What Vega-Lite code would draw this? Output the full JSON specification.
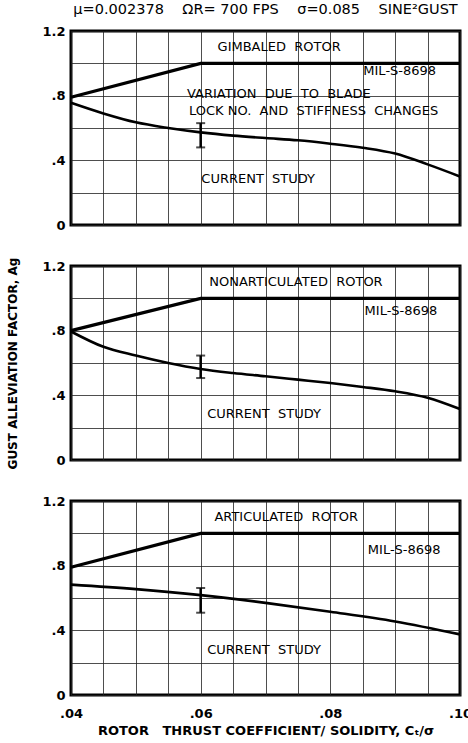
{
  "$schema": "https://vega.github.io/schema/vega-lite/v6.json",
  "background": "white",
  "padding": {"left": 5, "top": 2, "right": 0, "bottom": 0},
  "title": {"text": "μ=0.002378\u00a0\u00a0\u00a0\u00a0ΩR= 700 FPS\u00a0\u00a0\u00a0\u00a0σ=0.085\u00a0\u00a0\u00a0\u00a0SINE²GUST", "fontSize": 14.5, "font": "DejaVu Sans", "fontWeight": "normal", "anchor": "middle", "frame": "group", "offset": 3, "color": "black"},
  "data": {"values": [
    {"panel": 1, "kind": "mil", "x": 0.04, "y": 0.79},
    {"panel": 1, "kind": "mil", "x": 0.06, "y": 1.0},
    {"panel": 1, "kind": "mil", "x": 0.10, "y": 1.0},
    {"panel": 1, "kind": "cur", "x": 0.04, "y": 0.756},
    {"panel": 1, "kind": "cur", "x": 0.045, "y": 0.69},
    {"panel": 1, "kind": "cur", "x": 0.05, "y": 0.635},
    {"panel": 1, "kind": "cur", "x": 0.055, "y": 0.60},
    {"panel": 1, "kind": "cur", "x": 0.06, "y": 0.573},
    {"panel": 1, "kind": "cur", "x": 0.065, "y": 0.553},
    {"panel": 1, "kind": "cur", "x": 0.07, "y": 0.538},
    {"panel": 1, "kind": "cur", "x": 0.075, "y": 0.524},
    {"panel": 1, "kind": "cur", "x": 0.08, "y": 0.503},
    {"panel": 1, "kind": "cur", "x": 0.085, "y": 0.478},
    {"panel": 1, "kind": "cur", "x": 0.09, "y": 0.442},
    {"panel": 1, "kind": "cur", "x": 0.095, "y": 0.375},
    {"panel": 1, "kind": "cur", "x": 0.10, "y": 0.30},
    {"panel": 1, "kind": "err", "x": 0.06, "lo": 0.48, "hi": 0.63},
    {"panel": 1, "kind": "lab", "x": 0.0721, "y": 1.10, "t": "GIMBALED\u00a0\u00a0ROTOR"},
    {"panel": 1, "kind": "lab", "x": 0.0907, "y": 0.952, "t": "MIL-S-8698"},
    {"panel": 1, "kind": "labl", "x": 0.0579, "y": 0.81, "t": "VARIATION\u00a0\u00a0DUE\u00a0\u00a0TO\u00a0\u00a0BLADE"},
    {"panel": 1, "kind": "labl", "x": 0.0582, "y": 0.708, "t": "LOCK NO.\u00a0\u00a0AND\u00a0\u00a0STIFFNESS\u00a0\u00a0CHANGES"},
    {"panel": 1, "kind": "labl", "x": 0.0601, "y": 0.286, "t": "CURRENT\u00a0\u00a0STUDY"},

    {"panel": 2, "kind": "mil", "x": 0.04, "y": 0.80},
    {"panel": 2, "kind": "mil", "x": 0.06, "y": 1.0},
    {"panel": 2, "kind": "mil", "x": 0.10, "y": 1.0},
    {"panel": 2, "kind": "cur", "x": 0.04, "y": 0.795},
    {"panel": 2, "kind": "cur", "x": 0.045, "y": 0.70},
    {"panel": 2, "kind": "cur", "x": 0.05, "y": 0.646},
    {"panel": 2, "kind": "cur", "x": 0.055, "y": 0.60},
    {"panel": 2, "kind": "cur", "x": 0.06, "y": 0.563},
    {"panel": 2, "kind": "cur", "x": 0.065, "y": 0.538},
    {"panel": 2, "kind": "cur", "x": 0.07, "y": 0.518},
    {"panel": 2, "kind": "cur", "x": 0.075, "y": 0.497},
    {"panel": 2, "kind": "cur", "x": 0.08, "y": 0.476},
    {"panel": 2, "kind": "cur", "x": 0.085, "y": 0.452},
    {"panel": 2, "kind": "cur", "x": 0.09, "y": 0.425},
    {"panel": 2, "kind": "cur", "x": 0.095, "y": 0.385},
    {"panel": 2, "kind": "cur", "x": 0.10, "y": 0.315},
    {"panel": 2, "kind": "err", "x": 0.06, "lo": 0.507, "hi": 0.646},
    {"panel": 2, "kind": "lab", "x": 0.0747, "y": 1.10, "t": "NONARTICULATED\u00a0\u00a0ROTOR"},
    {"panel": 2, "kind": "lab", "x": 0.0909, "y": 0.92, "t": "MIL-S-8698"},
    {"panel": 2, "kind": "labl", "x": 0.061, "y": 0.284, "t": "CURRENT\u00a0\u00a0STUDY"},

    {"panel": 3, "kind": "mil", "x": 0.04, "y": 0.79},
    {"panel": 3, "kind": "mil", "x": 0.06, "y": 1.0},
    {"panel": 3, "kind": "mil", "x": 0.10, "y": 1.0},
    {"panel": 3, "kind": "cur", "x": 0.04, "y": 0.683},
    {"panel": 3, "kind": "cur", "x": 0.05, "y": 0.655},
    {"panel": 3, "kind": "cur", "x": 0.06, "y": 0.618},
    {"panel": 3, "kind": "cur", "x": 0.07, "y": 0.57},
    {"panel": 3, "kind": "cur", "x": 0.08, "y": 0.515},
    {"panel": 3, "kind": "cur", "x": 0.09, "y": 0.455},
    {"panel": 3, "kind": "cur", "x": 0.10, "y": 0.375},
    {"panel": 3, "kind": "err", "x": 0.06, "lo": 0.509, "hi": 0.662},
    {"panel": 3, "kind": "lab", "x": 0.0732, "y": 1.10, "t": "ARTICULATED\u00a0\u00a0ROTOR"},
    {"panel": 3, "kind": "lab", "x": 0.0914, "y": 0.894, "t": "MIL-S-8698"},
    {"panel": 3, "kind": "labl", "x": 0.061, "y": 0.28, "t": "CURRENT\u00a0\u00a0STUDY"}
  ]},
  "spacing": 19,
  "vconcat": [
    {
      "width": 389, "height": 194,
      "transform": [{"filter": "datum.panel == 1"}],
      "encoding": {
        "x": {"field": "x", "type": "quantitative", "scale": {"domain": [0.04, 0.10], "nice": false, "zero": false},
          "axis": {"values": [0.04, 0.045, 0.05, 0.055, 0.06, 0.065, 0.07, 0.075, 0.08, 0.085, 0.09, 0.095, 0.10], "labels": false, "title": null, "minExtent": 0, "maxExtent": 0, "labelPadding": 0}},
        "y": {"field": "y", "type": "quantitative", "scale": {"domain": [0, 1.2], "nice": false},
          "axis": {"values": [0, 0.2, 0.4, 0.6, 0.8, 1.0, 1.2],
            "labelExpr": "datum.value == 1.2 ? '1.2' : datum.value == 0.8 ? '.8' : datum.value == 0.4 ? '.4' : datum.value == 0 ? '0' : ''",
            "title": "GUST ALLEVIATION FACTOR, Ag", "titleOpacity": 0}}
      },
      "layer": [
        {"transform": [{"filter": "datum.kind == 'mil'"}], "mark": {"type": "line", "color": "black", "strokeWidth": 3.2}},
        {"transform": [{"filter": "datum.kind == 'cur'"}], "mark": {"type": "line", "color": "black", "strokeWidth": 2.6, "interpolate": "monotone"}},
        {"transform": [{"filter": "datum.kind == 'err'"}], "mark": {"type": "rule", "color": "black", "strokeWidth": 2.5},
          "encoding": {"y": {"field": "lo", "type": "quantitative"}, "y2": {"field": "hi"}}},
        {"transform": [{"filter": "datum.kind == 'err'"}], "mark": {"type": "tick", "color": "black", "orient": "horizontal", "size": 9, "thickness": 2},
          "encoding": {"y": {"field": "lo", "type": "quantitative"}}},
        {"transform": [{"filter": "datum.kind == 'err'"}], "mark": {"type": "tick", "color": "black", "orient": "horizontal", "size": 9, "thickness": 2},
          "encoding": {"y": {"field": "hi", "type": "quantitative"}}},
        {"transform": [{"filter": "datum.kind == 'lab'"}], "mark": {"type": "text", "color": "black", "fontSize": 13, "font": "DejaVu Sans", "align": "center", "baseline": "middle"},
          "encoding": {"text": {"field": "t"}}},
        {"transform": [{"filter": "datum.kind == 'labl'"}], "mark": {"type": "text", "color": "black", "fontSize": 13, "font": "DejaVu Sans", "align": "left", "baseline": "middle"},
          "encoding": {"text": {"field": "t"}}}
      ]
    },
    {
      "width": 389, "height": 194,
      "transform": [{"filter": "datum.panel == 2"}],
      "encoding": {
        "x": {"field": "x", "type": "quantitative", "scale": {"domain": [0.04, 0.10], "nice": false, "zero": false},
          "axis": {"values": [0.04, 0.045, 0.05, 0.055, 0.06, 0.065, 0.07, 0.075, 0.08, 0.085, 0.09, 0.095, 0.10], "labels": false, "title": null, "minExtent": 0, "maxExtent": 0, "labelPadding": 0}},
        "y": {"field": "y", "type": "quantitative", "scale": {"domain": [0, 1.2], "nice": false},
          "axis": {"values": [0, 0.2, 0.4, 0.6, 0.8, 1.0, 1.2],
            "labelExpr": "datum.value == 1.2 ? '1.2' : datum.value == 0.8 ? '.8' : datum.value == 0.4 ? '.4' : datum.value == 0 ? '0' : ''",
            "title": "GUST ALLEVIATION FACTOR, Ag"}}
      },
      "layer": [
        {"transform": [{"filter": "datum.kind == 'mil'"}], "mark": {"type": "line", "color": "black", "strokeWidth": 3.2}},
        {"transform": [{"filter": "datum.kind == 'cur'"}], "mark": {"type": "line", "color": "black", "strokeWidth": 2.6, "interpolate": "monotone"}},
        {"transform": [{"filter": "datum.kind == 'err'"}], "mark": {"type": "rule", "color": "black", "strokeWidth": 2.5},
          "encoding": {"y": {"field": "lo", "type": "quantitative"}, "y2": {"field": "hi"}}},
        {"transform": [{"filter": "datum.kind == 'err'"}], "mark": {"type": "tick", "color": "black", "orient": "horizontal", "size": 9, "thickness": 2},
          "encoding": {"y": {"field": "lo", "type": "quantitative"}}},
        {"transform": [{"filter": "datum.kind == 'err'"}], "mark": {"type": "tick", "color": "black", "orient": "horizontal", "size": 9, "thickness": 2},
          "encoding": {"y": {"field": "hi", "type": "quantitative"}}},
        {"transform": [{"filter": "datum.kind == 'lab'"}], "mark": {"type": "text", "color": "black", "fontSize": 13, "font": "DejaVu Sans", "align": "center", "baseline": "middle"},
          "encoding": {"text": {"field": "t"}}},
        {"transform": [{"filter": "datum.kind == 'labl'"}], "mark": {"type": "text", "color": "black", "fontSize": 13, "font": "DejaVu Sans", "align": "left", "baseline": "middle"},
          "encoding": {"text": {"field": "t"}}}
      ]
    },
    {
      "width": 389, "height": 194,
      "transform": [{"filter": "datum.panel == 3"}],
      "encoding": {
        "x": {"field": "x", "type": "quantitative", "scale": {"domain": [0.04, 0.10], "nice": false, "zero": false},
          "axis": {"values": [0.04, 0.045, 0.05, 0.055, 0.06, 0.065, 0.07, 0.075, 0.08, 0.085, 0.09, 0.095, 0.10],
            "labelExpr": "datum.value == 0.04 ? '.04' : datum.value == 0.06 ? '.06' : datum.value == 0.08 ? '.08' : datum.value == 0.1 ? '.10' : ''",
            "title": "ROTOR\u00a0\u00a0\u00a0THRUST COEFFICIENT/ SOLIDITY, Cₜ/σ", "labelPadding": 12, "titlePadding": 4, "titleFontSize": 13}},
        "y": {"field": "y", "type": "quantitative", "scale": {"domain": [0, 1.2], "nice": false},
          "axis": {"values": [0, 0.2, 0.4, 0.6, 0.8, 1.0, 1.2],
            "labelExpr": "datum.value == 1.2 ? '1.2' : datum.value == 0.8 ? '.8' : datum.value == 0.4 ? '.4' : datum.value == 0 ? '0' : ''",
            "title": "GUST ALLEVIATION FACTOR, Ag", "titleOpacity": 0}}
      },
      "layer": [
        {"transform": [{"filter": "datum.kind == 'mil'"}], "mark": {"type": "line", "color": "black", "strokeWidth": 3.2}},
        {"transform": [{"filter": "datum.kind == 'cur'"}], "mark": {"type": "line", "color": "black", "strokeWidth": 2.6, "interpolate": "monotone"}},
        {"transform": [{"filter": "datum.kind == 'err'"}], "mark": {"type": "rule", "color": "black", "strokeWidth": 2.5},
          "encoding": {"y": {"field": "lo", "type": "quantitative"}, "y2": {"field": "hi"}}},
        {"transform": [{"filter": "datum.kind == 'err'"}], "mark": {"type": "tick", "color": "black", "orient": "horizontal", "size": 9, "thickness": 2},
          "encoding": {"y": {"field": "lo", "type": "quantitative"}}},
        {"transform": [{"filter": "datum.kind == 'err'"}], "mark": {"type": "tick", "color": "black", "orient": "horizontal", "size": 9, "thickness": 2},
          "encoding": {"y": {"field": "hi", "type": "quantitative"}}},
        {"transform": [{"filter": "datum.kind == 'lab'"}], "mark": {"type": "text", "color": "black", "fontSize": 13, "font": "DejaVu Sans", "align": "center", "baseline": "middle"},
          "encoding": {"text": {"field": "t"}}},
        {"transform": [{"filter": "datum.kind == 'labl'"}], "mark": {"type": "text", "color": "black", "fontSize": 13, "font": "DejaVu Sans", "align": "left", "baseline": "middle"},
          "encoding": {"text": {"field": "t"}}}
      ]
    }
  ],
  "config": {
    "font": "DejaVu Sans",
    "view": {"stroke": "black", "strokeWidth": 3},
    "axis": {
      "grid": true, "gridColor": "#222", "gridWidth": 1, "gridOpacity": 0.8,
      "domain": false, "ticks": false,
      "labelColor": "black", "labelFont": "DejaVu Sans", "labelFontSize": 13, "labelFontWeight": "bold", "labelOverlap": false, "labelFlush": false,
      "titleColor": "black", "titleFont": "DejaVu Sans", "titleFontSize": 12, "titleFontWeight": "bold"
    },
    "axisY": {"labelPadding": 6, "titlePadding": 22}
  }
}
